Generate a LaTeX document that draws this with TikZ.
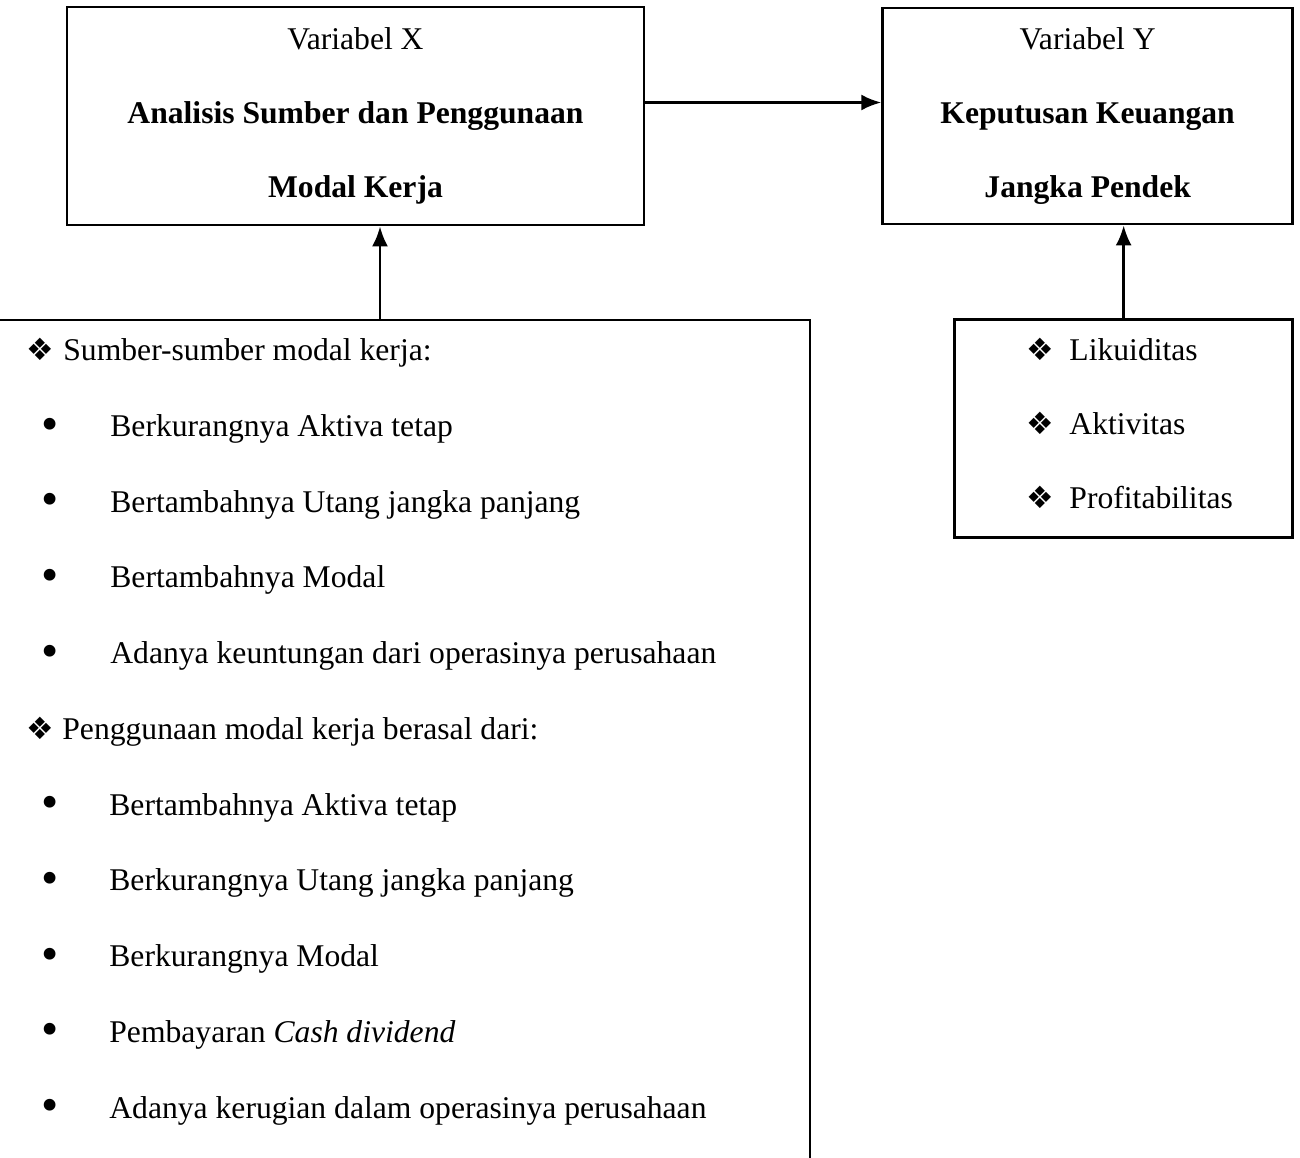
\documentclass[tikz,border=0pt]{standalone}
\usepackage{fontspec}
\setmainfont{Liberation Serif}
\newfontfamily\symfont{DejaVu Sans}
\usetikzlibrary{arrows.meta, positioning}

\newcommand{\dmd}[1]{\makebox[#1][l]{\symfont\fontsize{17.5}{17.5}\selectfont ❖}}
\newcommand{\blt}[1]{\hspace*{0.3cm}\makebox[#1][l]{\raisebox{-2pt}{\fontsize{28}{28}\selectfont •}}}

\begin{document}
\begin{tikzpicture}[x=0.02cm,y=-0.02cm,line width=1.6pt,>={Latex[length=4mm,width=3.2mm]}]
		\tikzstyle{every node}=[font=\fontsize{18}{42}\selectfont]
		\tikzstyle{varbox}=[draw,rectangle,minimum width=11.54cm,minimum height=4.36cm,align=center,inner sep=0pt]
		\useasboundingbox (0,0) rectangle (1300,1158);

		\node[varbox] (varx) at (355.5,116) {Variabel X\\ \textbf{Analisis Sumber dan Penggunaan}\\ \textbf{Modal Kerja}};
		\node[varbox,minimum width=8.2cm,minimum height=4.32cm] (vary) [right=4.72cm of varx] {Variabel Y\\ \textbf{Keputusan Keuangan}\\ \textbf{Jangka Pendek}};
		\node[varbox,minimum width=6.76cm,align=left,text depth=6.5pt] (rasio) [below=1.86cm of vary,xshift=0.72cm] {\hspace*{0.24cm}\dmd{0.86cm}Likuiditas\\ \hspace*{0.24cm}\dmd{0.86cm}Aktivitas\\ \hspace*{0.24cm}\dmd{0.86cm}Profitabilitas};

		% indikator variabel X
		\coordinate (frame) at (380,320);
		\draw (0,320) -- (810,320) -- (810,1158);
		\node[anchor=north west,inner sep=0pt,align=left,font=\fontsize{18}{43.1}\selectfont] (daftar) at (25,337) {%
			\dmd{0.74cm}Sumber-sumber modal kerja:\\
			\blt{1.38cm}Berkurangnya Aktiva tetap\\
			\blt{1.38cm}Bertambahnya Utang jangka panjang\\
			\blt{1.38cm}Bertambahnya Modal\\
			\blt{1.38cm}Adanya keuntungan dari operasinya perusahaan\\
			\dmd{0.72cm}Penggunaan modal kerja berasal dari:\\
			\blt{1.36cm}Bertambahnya Aktiva tetap\\
			\blt{1.36cm}Berkurangnya Utang jangka panjang\\
			\blt{1.36cm}Berkurangnya Modal\\
			\blt{1.36cm}Pembayaran \textit{Cash dividend}\\
			\blt{1.36cm}Adanya kerugian dalam operasinya perusahaan};

		\draw[->] ([yshift=0.27cm]varx.east) -- ([yshift=0.27cm]varx.east -| vary.west);
		\draw[->] (frame) -- (frame |- varx.south);
		\draw[->] (rasio.north) -- (rasio.north |- vary.south);
	\end{tikzpicture}
\end{document}
